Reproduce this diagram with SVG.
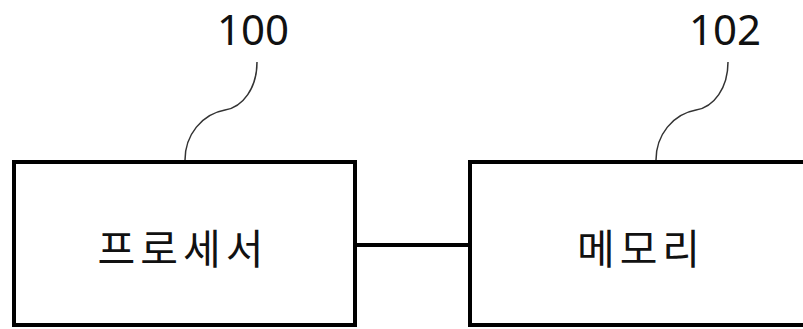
<svg xmlns="http://www.w3.org/2000/svg" width="803" height="329" viewBox="0 0 803 329">
<style>
.box{fill:#fff;stroke:#000;stroke-width:4}
.lead{fill:none;stroke:#333;stroke-width:1.5}
.lbl{font-family:"Noto Sans","Noto Sans CJK KR",sans-serif;font-size:42px;fill:#111;text-anchor:middle}
.txt{font-family:"Noto Sans CJK KR",sans-serif;font-size:41px;fill:#111;text-anchor:middle;letter-spacing:5px}
.conn{stroke:#000;stroke-width:4;fill:none}
</style>
<rect width="803" height="329" fill="#fff"/>
<g id="connectors">
<line class="conn" x1="355" y1="245" x2="470" y2="245"/>
</g>
<g id="node-100">
<rect class="box" x="14" y="162" width="341" height="163"/>
<text class="txt" x="183" y="264">프로세서</text>
<path class="lead" d="M257,62 C257,88 243,107 225,110 C202,114 185,135 185,160"/>
<text class="lbl" x="253" y="45">100</text>
</g>
<g id="node-102">
<rect class="box" x="470" y="162" width="340" height="163"/>
<text class="txt" x="641" y="264">메모리</text>
<path class="lead" d="M728,62 C728,88 714,107 696,110 C673,114 656,135 656,160"/>
<text class="lbl" x="725" y="45">102</text>
</g>
</svg>
